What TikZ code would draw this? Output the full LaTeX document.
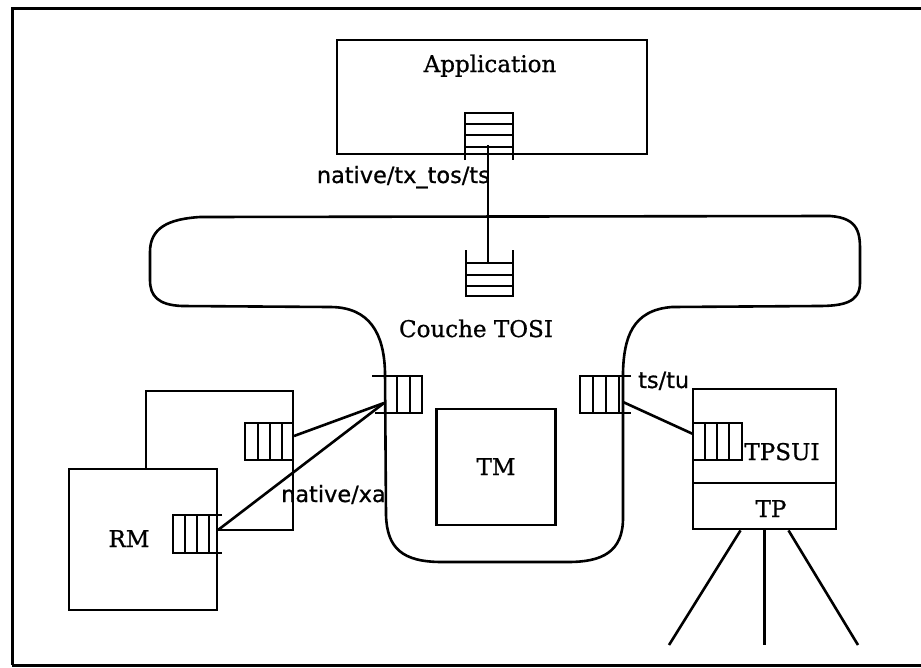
\documentclass[tikz,border=0pt]{standalone}
\usepackage{fontspec}
\newfontfamily\lblsans[FakeBold=0.8]{DejaVu Sans}
\newfontfamily\lblserif[FakeBold=0.8]{DejaVu Serif}
\tikzset{
  box/.style={draw, line width=2.8pt, inner sep=0pt, fill=white},
  qline/.style={line width=2.2pt},
  conn/.style={line width=2.6pt},
  serlbl/.style={inner sep=0pt, font=\lblserif\fontsize{23}{28}\selectfont},
  sanslbl/.style={inner sep=0pt, font=\lblsans\fontsize{22.4}{27}\selectfont},
  frameline/.style={line width=3pt},
}
\begin{document}
\begin{tikzpicture}[x=1pt,y=-1pt]
\useasboundingbox (0,0) rectangle (921,667);
% outer frame
\draw[frameline] (12,665) -- (12,8) -- (921,8);
\draw[frameline] (12,665) -- (921,665);

% TOSI layer outline
\draw[line width=2.6pt]
  (200,217) -- (830,216)
  .. controls (860,218) and (860,235) .. (860,252)
  -- (860,283)
  .. controls (860,303) and (842,306) .. (818,306)
  -- (672,307)
  .. controls (632,310) and (624,338) .. (623,372)
  -- (623,518)
  .. controls (623,552) and (602,562) .. (568,562)
  -- (442,562)
  .. controls (402,562) and (387,548) .. (386,515)
  -- (385,372)
  .. controls (384,334) and (370,307) .. (330,307)
  -- (182,306)
  .. controls (158,305) and (150,296) .. (150,280)
  -- (150,252)
  .. controls (150,228) and (168,219) .. (200,217) -- cycle;

% Application
\node[box, minimum width=310pt, minimum height=114pt] (app) at (492,97) {};
\node[serlbl, anchor=base] (applbl) at (490,72) {Application};
% queue in application (opens downward)
\draw[qline] (465,160) -- (465,113) -- (513,113) -- (513,160);
\draw[qline] (465,124) -- (513,124) (465,135) -- (513,135) (465,147) -- (513,147);
% queue in TOSI (opens upward)
\draw[qline] (466,250) -- (466,296) -- (513,296) -- (513,250);
\draw[qline] (466,263) -- (513,263) (466,275) -- (513,275) (466,286) -- (513,286);
\coordinate (qa) at (488,145);
\coordinate (qb) at (488,263);
\draw[conn] (qa) -- (qb);
\node[sanslbl, anchor=base east] (lblnat) at (490,183) {native/tx\_tos/ts};
\node[serlbl, anchor=base] (tosilbl) at (476,337) {Couche TOSI};

% left TOSI queue (opens left)
\draw[qline] (372,376) -- (422,376) -- (422,413) -- (375,413);
\draw[qline] (397,376) -- (397,413) (410,376) -- (410,413);
\coordinate (ql) at (384,403);
% right TOSI queue (opens right)
\draw[qline] (631,376) -- (580,376) -- (580,413) -- (631,413);
\draw[qline] (593,376) -- (593,413) (606,376) -- (606,413) (619,376) -- (619,413);
\coordinate (qr) at (623,402);

% TM
\node[box, minimum width=119pt, minimum height=116pt] (tm) at (496,467) {};
\node[serlbl, anchor=base] (tmlbl) at (496,475) {TM};

% RM (back)
\node[box, minimum width=147pt, minimum height=139pt] (rmback) at (219.5,460.5) {};
\draw[qline] (245,423) rectangle (293,460);
\draw[qline] (258,423) -- (258,460) (270,423) -- (270,460) (282,423) -- (282,460);
\coordinate (rb) at (294,436);
% RM (front)
\node[box, minimum width=148pt, minimum height=141pt] (rmfront) at (143,539.5) {};
\node[serlbl, anchor=base] (rmlbl) at (129,547) {RM};
\draw[qline] (222,515) -- (173,515) -- (173,553) -- (222,553);
\draw[qline] (185,515) -- (185,553) (197,515) -- (197,553) (209,515) -- (209,553);
\coordinate (rf) at (218,530);

\draw[conn] (ql) -- (rb);
\draw[conn] (ql) -- (rf);
\node[sanslbl, anchor=base west] (lblxa) at (281,502) {native/xa};

% TPSUI / TP
\node[box, minimum width=143pt, minimum height=94pt] (tpsui) at (764.5,436) {};
\node[box, minimum width=143pt, minimum height=46pt] (tp) at (764.5,506) {};
\node[serlbl, anchor=base] (tpsuilbl) at (782,460) {TPSUI};
\node[serlbl, anchor=base] (tplbl) at (771,517) {TP};
\draw[qline] (693,423) rectangle (742,460);
\draw[qline] (705,423) -- (705,460) (717,423) -- (717,460) (729,423) -- (729,460);
\coordinate (tq) at (693,434);
\draw[conn] (qr) -- (tq);
\node[sanslbl, anchor=base west] (lbltstu) at (638,388) {ts/tu};

% terminals from TP
\coordinate (e1) at (669,645);
\coordinate (e2) at (764.5,645);
\coordinate (e3) at (858,645);
\draw[conn] ([xshift=-24pt]tp.south) -- (e1);
\draw[conn] (tp.south) -- (e2);
\draw[conn] ([xshift=24pt]tp.south) -- (e3);
\end{tikzpicture}
\end{document}
